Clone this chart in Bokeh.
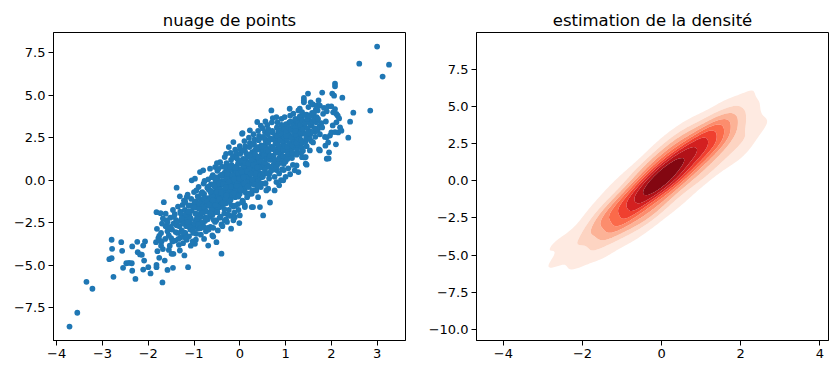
import numpy as np
from bokeh.plotting import figure
from bokeh.layouts import row
from bokeh.models import FixedTicker
from bokeh.embed import file_html
from bokeh.resources import INLINE

# ---------------- data ----------------
lower_tail = [
    (-3.72, -8.60), (-3.55, -7.79), (-3.35, -5.97), (-3.22, -6.38), (-2.85, -4.64), (-2.80, -4.58),
    (-2.79, -4.03), (-2.80, -3.50), (-2.76, -5.68), (-2.59, -3.64), (-2.57, -4.15), (-2.55, -5.15),
    (-2.48, -4.88), (-2.42, -4.86), (-2.36, -4.88), (-2.35, -3.89), (-2.35, -5.32), (-2.28, -5.80),
    (-2.24, -3.62), (-2.23, -4.23), (-2.18, -4.36), (-2.14, -4.38), (-2.11, -3.84), (-2.07, -3.60),
    (-2.09, -4.72), (-2.11, -5.25), (-2.00, -5.11), (-1.95, -5.48), (-1.83, -3.64), (-1.82, -5.11),
    (-1.82, -4.97), (-1.76, -4.56), (-1.80, -4.17), (-1.78, -3.40), (-1.72, -3.85), (-1.81, -2.86),
    (-1.69, -6.01), (-1.76, -3.27), (-1.71, -3.60), (-1.82, -1.88), (-1.73, -1.94), (-1.58, -5.27),
    (-1.64, -4.72), (-1.46, -5.15), (-1.45, -4.33), (-1.20, -3.35), (-0.98, -3.74), (-0.69, -3.84),
    (-1.21, -4.42), (-1.31, -4.13), (-1.13, -5.11),
]

core_a = [
    (-1.72, -3.10), (-1.68, -4.05), (-1.66, -1.29), (-1.70, -2.55), (-1.75, -3.55), (-1.68, -2.25),
    (-1.62, -1.97), (-1.60, -2.36), (-1.58, -3.00), (-1.63, -3.45), (-1.57, -2.75), (-1.55, -4.10), (-1.62, -2.70),
    (-1.52, -2.20), (-1.48, -2.90), (-1.50, -3.40), (-1.46, -1.75), (-1.53, -3.85), (-1.45, -2.55), (-1.49, -4.33),
    (-1.38, -0.44), (-1.42, -2.00), (-1.38, -2.65), (-1.36, -3.10), (-1.41, -3.55), (-1.35, -1.55), (-1.39, -2.35), (-1.33, -3.80),
    (-1.31, -0.95), (-1.30, -1.85), (-1.28, -2.40), (-1.27, -2.95), (-1.29, -3.35), (-1.25, -1.45), (-1.26, -2.10), (-1.24, -3.70),
    (-1.16, -0.99), (-1.22, -1.20), (-1.20, -1.75), (-1.18, -2.25), (-1.17, -2.70), (-1.19, -3.10), (-1.16, -3.50), (-1.15, -1.95), (-1.14, -0.85),
    (-1.12, -1.50), (-1.10, -2.05), (-1.09, -2.45), (-1.08, -2.90), (-1.11, -3.30), (-1.07, -3.85), (-1.06, -1.10), (-1.05, -1.80), (-1.04, -2.65), (-1.03, -3.60),
    (-1.05, -0.01), (-0.98, 0.09), (-1.00, -0.70), (-0.99, -1.35), (-0.97, -1.95), (-0.96, -2.35), (-1.01, -2.75), (-0.95, -3.15), (-0.94, -1.60), (-0.93, -2.20), (-0.92, -0.95), (-0.96, -3.50),
    (-0.90, -0.40), (-0.89, -1.05), (-0.88, -1.55), (-0.87, -2.00), (-0.86, -2.45), (-0.91, -2.85), (-0.85, -3.20), (-0.84, -1.25), (-0.83, -1.80), (-0.82, -0.70), (-0.86, -2.65), (-0.87, 0.48),
    (-0.80, 0.58), (-0.79, -0.20), (-0.78, -0.80), (-0.77, -1.30), (-0.76, -1.75), (-0.75, -2.20), (-0.81, -2.60), (-0.74, -3.00), (-0.73, -1.05), (-0.72, -1.50), (-0.71, -0.45), (-0.76, -2.40), (-0.78, -3.45),
    (-0.65, 0.68), (-0.69, 0.05), (-0.68, -0.55), (-0.67, -1.05), (-0.66, -1.50), (-0.65, -1.95), (-0.70, -2.30), (-0.64, -2.75), (-0.63, -0.25), (-0.62, -0.85), (-0.61, -1.30), (-0.66, -2.15), (-0.60, -3.25), (-0.68, -2.90), (-0.58, -3.31),
    (-0.54, 0.77), (-0.59, 0.30), (-0.58, -0.25), (-0.57, -0.75), (-0.56, -1.20), (-0.55, -1.65), (-0.60, -2.05), (-0.54, -2.45), (-0.53, 0.00), (-0.52, -0.55), (-0.51, -1.00), (-0.56, -1.90), (-0.51, -3.64), (-0.51, -2.36), (-0.58, -2.80),
]

core_b = [
    (-0.50, 1.00), (-0.49, 0.55), (-0.48, 0.00), (-0.47, -0.50), (-0.46, -0.95), (-0.45, -1.40), (-0.50, -1.80), (-0.44, -2.20), (-0.43, 0.25), (-0.42, -0.30), (-0.41, -0.75), (-0.46, -1.60), (-0.40, -4.32), (-0.40, -2.60), (-0.48, -2.95),
    (-0.43, 1.06), (-0.39, 0.80), (-0.38, 0.25), (-0.37, -0.25), (-0.36, -0.70), (-0.35, -1.15), (-0.40, -1.55), (-0.34, -1.95), (-0.33, 0.45), (-0.32, -0.05), (-0.31, -0.50), (-0.36, -1.35), (-0.30, -2.30), (-0.38, -2.70), (-0.33, 1.36), (-0.33, -2.36),
    (-0.29, 1.00), (-0.28, 0.45), (-0.27, -0.05), (-0.26, -0.50), (-0.25, -0.95), (-0.30, -1.35), (-0.24, -1.75), (-0.24, 1.95), (-0.22, 0.20), (-0.21, -0.30), (-0.26, -1.15), (-0.19, -2.85), (-0.20, -2.10), (-0.28, -2.45), (-0.25, 0.70), (-0.30, 1.55),
    (-0.20, 1.60), (-0.19, 1.20), (-0.18, 0.65), (-0.17, 0.15), (-0.16, -0.30), (-0.15, -0.75), (-0.20, -1.15), (-0.14, -1.55), (-0.14, 2.24), (-0.12, 0.40), (-0.11, -0.10), (-0.16, -0.95), (-0.14, -2.36), (-0.12, -1.90), (-0.18, 0.90), (-0.15, -0.50),
    (-0.10, 1.80), (-0.09, 1.35), (-0.08, 0.80), (-0.07, 0.30), (-0.06, -0.15), (-0.05, -0.60), (-0.10, -1.00), (-0.04, -1.40), (-0.03, 1.05), (-0.02, 0.55), (-0.01, 0.05), (-0.06, -0.80), (-0.01, -2.52), (-0.03, -1.75), (-0.08, 1.60), (-0.04, -0.35), (-0.11, -2.17),
    (0.00, 2.00), (0.01, 1.55), (0.02, 1.00), (0.03, 0.50), (0.04, 0.05), (0.05, -0.40), (0.00, -0.80), (0.06, -1.20), (0.05, 2.73), (0.07, 1.25), (0.08, 0.75), (0.09, 0.25), (0.04, -0.60), (0.07, -1.29), (0.02, 1.80), (0.06, -0.15), (0.00, -2.07), (0.06, 2.77),
    (0.10, 2.30), (0.11, 1.75), (0.12, 1.20), (0.13, 0.70), (0.14, 0.25), (0.15, -0.20), (0.10, -0.60), (0.16, -1.00), (0.17, 1.45), (0.18, 0.95), (0.19, 0.45), (0.14, -0.40), (0.11, -1.58), (0.12, 2.00), (0.16, 0.05), (0.18, -0.85), (0.11, -1.48),
    (0.20, 2.50), (0.21, 1.95), (0.22, 1.40), (0.23, 0.90), (0.22, 2.93), (0.25, 0.00), (0.20, -0.40), (0.26, -0.80), (0.27, 1.65), (0.28, 1.15), (0.29, 0.65), (0.24, -0.20), (0.26, -1.58), (0.22, 2.20), (0.26, 0.40), (0.28, -0.60), (0.29, -1.58),
    (0.30, 2.70), (0.31, 2.15), (0.32, 1.60), (0.33, 1.10), (0.34, 0.65), (0.35, 0.20), (0.30, -0.20), (0.36, -0.60), (0.37, 1.85), (0.38, 3.42), (0.39, 0.85), (0.34, 0.00), (0.40, -1.00), (0.32, 2.40), (0.36, 1.35), (0.38, -0.40),
    (0.40, 2.90), (0.41, 2.35), (0.42, 1.80), (0.43, 1.30), (0.44, 0.85), (0.45, 0.40), (0.40, 0.00), (0.46, -0.40), (0.47, 2.05), (0.48, 1.55), (0.49, 1.05), (0.44, 0.20), (0.44, -1.58), (0.42, 2.60), (0.46, 3.20), (0.48, -0.20),
]

core_center = [
    (-0.68, -1.20), (-0.64, -0.60), (-0.62, -1.75), (-0.60, -0.95), (-0.57, -1.45), (-0.55, -0.35), (-0.52, -1.25),
    (-0.50, -0.70), (-0.48, -1.55), (-0.46, -0.20), (-0.44, -1.05), (-0.42, -0.55), (-0.40, -1.30), (-0.38, -0.05),
    (-0.36, -0.90), (-0.35, 0.30), (-0.33, -0.60), (-0.31, -1.10), (-0.29, 0.10), (-0.27, -0.35), (-0.25, -0.70),
    (-0.23, 0.55), (-0.22, -0.15), (-0.20, -0.55), (-0.18, 0.30), (-0.17, -0.85), (-0.15, 0.05), (-0.13, -0.40),
    (-0.12, 0.75), (-0.10, 0.15), (-0.09, -0.55), (-0.07, 0.50), (-0.05, -0.10), (-0.04, 0.95), (-0.02, 0.25),
    (0.00, -0.35), (0.01, 0.65), (0.03, 0.05), (0.05, 1.10), (0.06, 0.40), (0.08, -0.20), (0.09, 0.85),
    (0.11, 0.15), (0.13, 1.25), (0.14, 0.55), (0.16, -0.10), (0.18, 1.05), (0.19, 0.20), (0.21, 0.70),
    (0.23, 1.50), (0.24, 0.35), (0.26, 1.00), (0.28, -0.15), (0.29, 1.35), (0.31, 0.55), (0.33, 1.75),
    (0.35, 0.95), (0.36, 0.25), (0.38, 1.40), (0.40, 0.65), (0.42, 1.95), (0.43, 1.10), (0.45, 0.15),
    (0.47, 1.30), (0.49, 0.75), (0.51, 1.70), (0.53, 0.95), (0.55, 2.05), (0.57, 1.35), (0.60, 0.90),
    (0.62, 1.60), (0.64, 2.35), (0.67, 1.20), (0.70, 1.95),
]

core_fill = [
    (-1.27, -2.24), (-1.23, -3.06), (-1.19, -1.28), (-1.13, -2.46), (-1.09, -1.48), (-1.02, -2.94), (-0.99, -1.58),
    (-0.95, -0.60), (-0.93, -2.26), (-0.89, -1.68), (-0.86, -2.82), (-0.84, -0.78), (-0.81, -1.92), (-0.79, -1.08),
    (-0.77, -0.04), (-0.74, -2.28), (-0.72, -1.24), (-0.70, -2.80), (-0.69, -0.38), (-0.67, -1.44), (-0.64, -0.68),
    (-0.63, -1.96), (-0.61, 0.18), (-0.59, -1.18), (-0.57, -2.34), (-0.55, -0.30), (-0.53, -1.46), (-0.52, 0.16),
    (-0.50, -0.70), (-0.49, -1.88), (-0.47, 0.66), (-0.45, -1.10), (-0.44, -0.18), (-0.42, -2.14), (-0.41, -0.72),
    (-0.39, 0.32), (-0.37, -1.34), (-0.36, -0.22), (-0.34, -1.68), (-0.32, 0.76), (-0.31, -0.42), (-0.29, -0.88),
    (-0.27, 0.36), (-0.26, -2.02), (-0.24, -0.08), (-0.23, -1.26), (-0.21, 0.78), (-0.19, -0.38), (-0.18, -1.46),
    (-0.16, 0.28), (-0.15, 1.40), (-0.13, -0.76), (-0.12, 0.06), (-0.10, -1.50), (-0.09, 0.72), (-0.07, -0.34),
    (-0.06, 1.28), (-0.04, 0.42), (-0.03, -0.96), (-0.01, 0.08), (0.01, 1.13), (0.02, -0.56), (0.04, 0.48),
    (0.05, -1.30), (0.07, 1.74), (0.08, 0.16), (0.10, -0.20), (0.11, 1.02), (0.13, -0.74), (0.14, 1.58),
    (0.16, 0.52), (0.17, -0.36), (0.19, 0.98), (0.21, -0.78), (0.22, 1.44), (0.24, 0.38), (0.25, 1.20),
    (0.27, 0.04), (0.29, 2.08), (0.30, 0.90), (0.32, -0.26), (0.33, 1.56), (0.35, 0.40), (0.37, 1.94),
    (0.38, 0.76), (0.40, -0.30), (0.41, 1.32), (0.43, 2.46), (0.45, 0.30), (0.46, 1.12), (0.48, 1.96),
    (0.50, 0.20), (0.51, 1.42), (0.53, 0.86), (0.55, 2.40), (0.56, -0.18), (0.58, 1.86), (0.60, 0.80),
    (0.62, 1.34), (0.63, 2.37), (0.65, 0.40), (0.67, 1.84), (0.69, 1.28), (0.71, 2.82), (0.73, 0.86),
    (0.75, 1.80), (0.77, 2.44), (0.80, 0.60), (0.82, 1.64), (0.84, 2.88), (0.87, 1.34), (0.89, 2.38),
    (0.92, 0.64), (0.94, 2.08), (0.97, 2.94), (0.99, 1.38), (1.03, 2.46), (1.06, 1.92), (1.10, 3.00),
    (1.14, 1.48), (1.18, 2.46), (1.23, 3.56), (1.27, 2.14),
]

core_upper_fill = [
    (0.81, 2.35), (0.85, 1.90), (0.88, 2.95), (0.90, 1.55), (0.93, 2.55), (0.95, 3.20), (0.97, 1.75),
    (1.00, 2.30), (1.02, 3.05), (1.04, 1.70), (1.06, 2.70), (1.08, 3.40), (1.11, 2.20), (1.13, 1.85),
    (1.15, 3.05), (1.17, 2.45), (1.19, 1.95), (1.21, 3.35), (1.23, 2.40), (1.25, 2.95), (1.27, 1.95),
    (1.29, 3.60), (1.31, 2.60), (1.33, 3.05), (1.35, 2.15), (1.37, 3.80), (1.39, 2.75), (1.41, 3.20),
    (1.43, 2.25), (1.46, 3.85), (1.48, 2.60), (1.51, 3.55), (1.54, 2.70), (1.57, 3.20), (1.61, 3.75),
    (1.64, 2.85), (1.67, 3.40), (1.70, 2.95),
]

core_lower_fill = [
    (-1.58, -2.45), (-1.55, -3.25), (-1.51, -2.75), (-1.47, -3.60), (-1.44, -2.15), (-1.40, -3.05),
    (-1.37, -2.45), (-1.34, -3.45), (-1.32, -2.70), (-1.29, -1.95), (-1.26, -3.05), (-1.23, -2.55),
    (-1.20, -2.05), (-1.18, -3.35), (-1.15, -2.50), (-1.12, -1.85), (-1.10, -2.75), (-1.07, -2.25),
    (-1.04, -1.50), (-1.02, -3.10), (-0.99, -2.55), (-0.97, -1.25), (-0.94, -2.00), (-0.91, -2.60),
    (-0.88, -1.35), (-0.85, -2.15), (-0.82, -1.55), (-0.79, -2.75), (-0.76, -1.05), (-0.73, -1.85),
]

core_c = [
    (0.50, 3.05), (0.51, 2.55), (0.52, 2.00), (0.53, 1.50), (0.54, 1.05), (0.55, 0.60), (0.50, 0.20), (0.56, -0.20), (0.57, 2.25), (0.58, 1.75), (0.59, 1.25), (0.54, 0.40), (0.51, -2.07), (0.55, 2.83), (0.56, 3.45), (0.58, -0.60),
    (0.60, 3.25), (0.61, 2.70), (0.62, 2.20), (0.63, 1.70), (0.64, 1.25), (0.65, 0.80), (0.60, 0.40), (0.66, -1.31), (0.67, 2.45), (0.68, 1.95), (0.69, 4.10), (0.64, 0.10), (0.62, -0.50), (0.62, 3.00), (0.66, 1.45), (0.68, 0.55),
    (0.70, 3.40), (0.71, 2.90), (0.72, 2.40), (0.73, 1.90), (0.74, 1.45), (0.75, 1.00), (0.70, 0.60), (0.76, 0.20), (0.77, 2.65), (0.78, 2.15), (0.79, 1.65), (0.74, 0.75), (0.80, -0.11), (0.72, 3.65), (0.76, -0.60), (0.78, 1.20),
    (0.80, 3.71), (0.81, 3.10), (0.82, 2.60), (0.83, 2.10), (0.84, 1.65), (0.85, 1.20), (0.80, 0.80), (0.86, 0.40), (0.87, 2.85), (0.88, 2.35), (0.89, 1.85), (0.84, 0.95), (0.90, 0.00), (0.82, 3.40), (0.86, -0.30),
    (0.91, 3.61), (0.91, 3.25), (0.92, 2.75), (0.93, 2.30), (0.94, 1.85), (0.95, 1.40), (0.95, -0.01), (0.96, 0.60), (0.97, 3.00), (0.98, 2.50), (0.99, 2.00), (0.94, 1.10), (1.00, 0.20), (0.98, 3.71), (0.96, 0.95),
    (1.01, 3.30), (1.02, 2.85), (1.03, 2.40), (1.04, 1.95), (1.05, 1.50), (1.00, 1.10), (1.06, 0.70), (1.07, 3.10), (1.09, 4.20), (1.09, 2.15), (1.04, 1.25), (1.10, 0.35), (1.02, 2.60),
    (1.10, 3.80), (1.11, 3.45), (1.12, 2.95), (1.13, 2.50), (1.14, 2.05), (1.15, 1.60), (1.17, 3.91), (1.16, 0.90), (1.17, 3.20), (1.18, 2.70), (1.19, 2.25), (1.14, 1.30), (1.20, 0.58),
    (1.21, 3.60), (1.22, 3.10), (1.23, 2.65), (1.24, 2.20), (1.25, 1.75), (1.24, 0.87), (1.27, 3.35), (1.28, 0.48), (1.29, 2.40), (1.24, 1.50), (1.22, 2.90), (1.28, 4.10),
    (1.31, 4.20), (1.31, 3.75), (1.32, 3.25), (1.33, 2.80), (1.34, 2.35), (1.35, 1.90), (1.36, 1.35), (1.37, 3.50), (1.38, 3.00), (1.38, 1.73), (1.34, 1.60), (1.36, 4.00),
    (1.40, 4.69), (1.40, 4.83), (1.40, 4.58), (1.42, 3.85), (1.43, 3.35), (1.44, 0.97), (1.46, 0.91), (1.42, 1.34), (1.44, 1.36), (1.45, 2.45), (1.46, 2.00), (1.47, 3.60), (1.48, 3.05), (1.49, 5.09), (1.44, 2.70),
    (1.53, 1.75), (1.50, 4.30), (1.52, 3.80), (1.54, 3.30), (1.55, 2.85), (1.56, 2.30), (1.55, 4.58), (1.58, 3.95), (1.59, 3.45), (1.53, 2.42), (1.49, 2.81),
    (1.60, 4.45), (1.62, 3.95), (1.63, 3.55), (1.64, 3.05), (1.65, 2.55), (1.66, 4.15), (1.60, 2.22), (1.68, 3.70), (1.68, 4.38),
    (1.72, 4.69), (1.73, 1.81), (1.70, 4.10), (1.71, 3.60), (1.74, 3.15), (1.75, 2.70), (1.75, 4.38), (1.78, 3.35), (1.75, 1.75), (1.80, 3.10),
]

upper_tail = [
    (1.80, 5.15), (1.82, 3.90), (1.84, 4.25), (1.86, 2.54), (1.87, 2.03), (1.88, 3.45), (1.90, 4.05), (1.90, 2.52),
    (1.93, 2.22), (1.90, 1.26), (1.93, 4.34), (1.94, 1.28), (1.95, 1.64), (1.97, 2.62), (2.00, 2.81), (2.00, 4.34),
    (2.02, 5.09), (2.06, 4.97), (2.04, 3.99), (2.03, 3.22), (2.08, 5.68), (2.08, 5.52), (2.08, 4.18), (2.08, 2.83),
    (2.10, 2.11), (2.11, 3.40), (2.11, 3.89), (2.14, 3.79), (2.17, 3.63), (2.15, 2.81), (2.19, 3.11), (2.22, 2.91),
    (2.24, 4.85), (2.37, 2.50), (2.41, 3.44), (2.48, 3.97), (2.61, 6.85), (2.85, 4.09), (3.00, 7.85), (3.12, 6.09),
    (3.26, 6.79),
]

left_title = "nuage de points"
right_title = "estimation de la densité"

left_xticks = [-4, -3, -2, -1, 0, 1, 2, 3]
left_xlabels = ["−4", "−3", "−2", "−1", "0", "1", "2", "3"]
left_yticks = [-7.5, -5.0, -2.5, 0.0, 2.5, 5.0, 7.5]
left_ylabels = ["−7.5", "−5.0", "−2.5", "0.0", "2.5", "5.0", "7.5"]
right_xticks = [-4, -2, 0, 2, 4]
right_xlabels = ["−4", "−2", "0", "2", "4"]
right_yticks = [-10.0, -7.5, -5.0, -2.5, 0.0, 2.5, 5.0, 7.5]
right_ylabels = ["−10.0", "−7.5", "−5.0", "−2.5", "0.0", "2.5", "5.0", "7.5"]

# fill colours of the 9 density bands (light -> dark, "Reds")
band_colors = ["#feeae1", "#fdd4c2", "#fcb296", "#fc8d6d", "#fb6a4a",
               "#f0402f", "#d32020", "#b21218", "#830711"]

# ---------------- build ----------------
pts = (lower_tail + core_a + core_lower_fill + core_b + core_center + core_fill
       + core_upper_fill + core_c + upper_tail)
px = np.array([p[0] for p in pts], dtype=float)
py = np.array([p[1] for p in pts], dtype=float)

FONT = "DejaVu Sans"


def style(p, xt, xl, yt, yl):
    p.title.align = "center"
    p.title.text_font = FONT
    p.title.text_font_size = "16.5px"
    p.title.text_font_style = "normal"
    p.title.text_color = "black"
    p.title.standoff = 5
    p.xgrid.visible = False
    p.ygrid.visible = False
    p.outline_line_color = "black"
    p.outline_line_width = 1
    p.outline_line_alpha = 1
    p.background_fill_color = "white"
    p.border_fill_color = "white"
    for ax, t, l in ((p.xaxis[0], xt, xl), (p.yaxis[0], yt, yl)):
        ax.ticker = FixedTicker(ticks=t)
        ax.major_label_overrides = {float(k): v for k, v in zip(t, l)}
        ax.major_tick_out = 5
        ax.major_tick_in = 0
        ax.minor_tick_line_color = None
        ax.axis_line_color = "black"
        ax.major_tick_line_color = "black"
        ax.major_label_text_font = FONT
        ax.major_label_text_font_size = "13px"
        ax.major_label_text_color = "black"
        ax.major_label_standoff = 3


p1 = figure(width=422, height=372, x_range=(-4.07, 3.62), y_range=(-9.42, 8.68),
            output_backend="svg", toolbar_location=None, title=left_title,
            min_border_left=53, min_border_right=17, min_border_top=32, min_border_bottom=32)
style(p1, left_xticks, left_xlabels, left_yticks, left_ylabels)
p1.scatter(px, py, size=5.8, fill_color="#1f77b4", line_color=None)

# KDE (gaussian, Scott bandwidth) of the same points, iso-proportion levels
n = len(px)
factor = n ** (-1.0 / 6.0)
cov = np.cov(np.vstack([px, py])) * factor ** 2
inv = np.linalg.inv(cov)
bwx, bwy = np.sqrt(cov[0, 0]), np.sqrt(cov[1, 1])
gx = np.linspace(px.min() - 3 * bwx, px.max() + 3 * bwx, 200)
gy = np.linspace(py.min() - 3 * bwy, py.max() + 3 * bwy, 200)
GX, GY = np.meshgrid(gx, gy)
Z = np.zeros_like(GX)
for x0, y0 in zip(px, py):
    dx = GX - x0
    dy = GY - y0
    Z += np.exp(-0.5 * (inv[0, 0] * dx * dx + 2 * inv[0, 1] * dx * dy + inv[1, 1] * dy * dy))

q = np.linspace(0.05, 1, 10)
vals = np.sort(Z.ravel())[::-1]
cum = np.cumsum(vals) / vals.sum()
idx = np.searchsorted(cum, 1 - q)
levels = np.sort(np.take(vals, idx, mode="clip"))

p2 = figure(width=414, height=372, x_range=(-4.68, 4.22), y_range=(-10.74, 9.97),
            output_backend="svg", toolbar_location=None, title=right_title,
            min_border_left=54, min_border_right=8, min_border_top=32, min_border_bottom=32)
style(p2, right_xticks, right_xlabels, right_yticks, right_ylabels)
p2.contour(x=gx, y=gy, z=Z, levels=list(levels), fill_color=band_colors, line_color=None)

layout = row(p1, p2)
open("out.html", "w").write(file_html(layout, INLINE))
